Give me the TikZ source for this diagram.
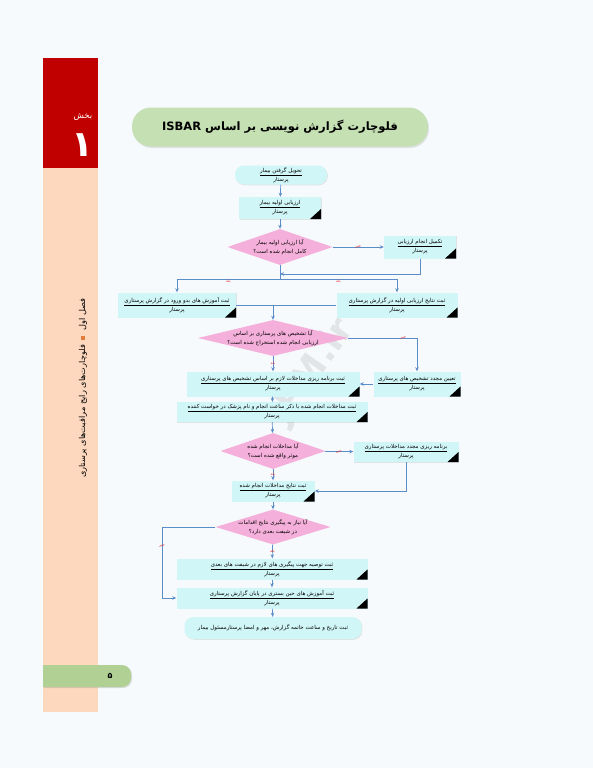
\documentclass[tikz,border=0pt]{standalone}
\usepackage{fontspec}
\usepackage{xcolor}
\usepackage{tikz}
\usetikzlibrary{shapes.geometric, arrows.meta, shadows, calc}
\TeXXeTstate=1
\newfontfamily\farsi[Script=Arabic]{DejaVu Sans}
\definecolor{pagebg}{HTML}{F6FAFC}
\definecolor{stripbg}{HTML}{FDD8BF}
\definecolor{chapred}{HTML}{C00000}
\definecolor{bulletor}{HTML}{E07B39}
\definecolor{titlegreen}{HTML}{C5E0B3}
\definecolor{tabgreen}{HTML}{B0D094}
\definecolor{taskcyan}{HTML}{D1F6F7}
\definecolor{decpink}{HTML}{F5AFDB}
\definecolor{flowblue}{HTML}{5B8DC9}
\definecolor{labelred}{HTML}{E0302F}

\begin{document}
\begin{tikzpicture}[x=1pt,y=-1pt,
    boxfont/.style={font=\farsi\fontsize{5.5}{9}\selectfont},
    task/.style={boxfont, fill=taskcyan, inner sep=.5pt, align=center,
      drop shadow={opacity=.18, shadow xshift=.8pt, shadow yshift=-.8pt},
      path picture={\fill[black] (path picture bounding box.south east)
        -- ++(-11pt,0pt) -- ++(11pt,10pt) -- cycle;}},
    startbox/.style={boxfont, fill=taskcyan, rounded corners=9pt, inner sep=.5pt, align=center,
      drop shadow={opacity=.18, shadow xshift=.8pt, shadow yshift=-.8pt}},
    decision/.style={diamond, fill=decpink, inner sep=0pt},
    dtext/.style={boxfont, align=center, inner sep=0pt},
    flow/.style={draw=flowblue, line width=.7pt, -{Stealth[length=4pt,width=3.5pt]}},
    link/.style={draw=flowblue, line width=.7pt},
    yes/.style={text=labelred, inner sep=.5pt, font=\farsi\fontsize{4}{4.5}\selectfont},
    no/.style={yes},
    chapfont/.style={rotate=90, anchor=east, inner sep=0pt, font=\farsi\fontsize{8.2}{9}\selectfont}]
  \def\W{593}
  \def\H{768}

  \useasboundingbox (0,0) rectangle (\W,\H);
  \fill[pagebg] (0,0) rectangle (\W,\H);

  % side strip
  \fill[stripbg] (43,58) rectangle (98,712);
  \fill[chapred] (43,58) rectangle (98,168);
  \node[text=white, font=\farsi\fontsize{8.5}{9}\selectfont] (part) at (83,117) {\beginR بخش\endR};
  \node[text=white, font=\farsi\bfseries\fontsize{36}{36}\selectfont] (partno) at (82,145) {\beginR ۱\endR};
  \node[chapfont] (chapA) at (83,298) {\beginR فصل اول\endR};
  \node[chapfont, fill=bulletor, minimum size=4pt] (chapsq) at ($(chapA.west)+(0,5)$) {};
  \node[chapfont] (chapB) at ($(chapsq.west)+(0,5)$) {\beginR فلوچارت‌های رایج مراقبت‌های پرستاری\endR};
  \fill[tabgreen, drop shadow={opacity=.25, shadow xshift=1pt, shadow yshift=-1pt}]
    (43,665) [rounded corners=9pt] -- (131,665) -- (131,687) [sharp corners] -- (43,687) -- cycle;
  \node[font=\farsi\bfseries\fontsize{8}{9}\selectfont] (pageno) at (110,676) {\beginR ۵\endR};

  % title
  \node[fill=titlegreen, rounded corners=19pt, minimum width=296, minimum height=39,
    drop shadow={opacity=.2, shadow xshift=1pt, shadow yshift=-1.5pt},
    font=\farsi\bfseries\fontsize{11.5}{14}\selectfont] (title) at (280,127)
    {\beginR فلوچارت گزارش نویسی بر اساس \beginL ISBAR\endL\endR};

  \node[text=gray, opacity=.17, rotate=55, font=\farsi\bfseries\fontsize{36}{36}\selectfont]
    (mark) at (312,372) {JPM.ir};

  % flowchart
  \node[startbox, minimum width=92, minimum height=19] (recv) at (281,175)
    {\underline{\beginR تحویل گرفتن بیمار\endR}\\\beginR پرستار\endR};
  \node[task, minimum width=82, minimum height=22] (assess) at (280,208)
    {\underline{\beginR ارزیابی اولیه بیمار\endR}\\\beginR پرستار\endR};
  \node[decision, minimum width=105, minimum height=36,
    label={[dtext]center:{\beginR آیا ارزیابی اولیه بیمار\endR\\\beginR کامل انجام شده است؟\endR}}] (q1) at (280,247) {};
  \node[task, minimum width=72, minimum height=23] (complete) at (420,247)
    {\underline{\beginR تکمیل انجام ارزیابی\endR}\\\beginR پرستار\endR};
  \node[task, minimum width=118, minimum height=25] (teach) at (177,305)
    {\underline{\beginR ثبت آموزش های بدو ورود در گزارش پرستاری\endR}\\\beginR پرستار\endR};
  \node[task, minimum width=121, minimum height=25] (result) at (397,305)
    {\underline{\beginR ثبت نتایج ارزیابی اولیه در گزارش پرستاری\endR}\\\beginR پرستار\endR};
  \node[decision, minimum width=150, minimum height=36,
    label={[dtext]center:{\beginR آیا تشخیص های پرستاری بر اساس\endR\\\beginR ارزیابی انجام شده استخراج شده است؟\endR}}] (q2) at (273,338) {};
  \node[task, minimum width=87, minimum height=25] (rediag) at (417,384)
    {\underline{\beginR تعیین مجدد تشخیص های پرستاری\endR}\\\beginR پرستار\endR};
  \node[task, minimum width=173, minimum height=25] (plan) at (273,384)
    {\underline{\beginR ثبت برنامه ریزی مداخلات لازم بر اساس تشخیص های پرستاری\endR}\\\beginR پرستار\endR};
  \node[task, minimum width=191, minimum height=20] (record) at (272,412)
    {\underline{\beginR ثبت مداخلات انجام شده با ذکر ساعت انجام و نام پزشک در خواست کننده\endR}\\\beginR پرستار\endR};
  \node[decision, minimum width=105, minimum height=36,
    label={[dtext]center:{\beginR آیا مداخلات انجام شده\endR\\\beginR موثر واقع شده است؟\endR}}] (q3) at (273,451) {};
  \node[task, minimum width=105, minimum height=20] (replan) at (406,452)
    {\underline{\beginR برنامه ریزی مجدد مداخلات پرستاری\endR}\\\beginR پرستار\endR};
  \node[task, minimum width=83, minimum height=21] (outcome) at (273,491)
    {\underline{\beginR ثبت نتایج مداخلات انجام شده\endR}\\\beginR پرستار\endR};
  \node[decision, minimum width=115, minimum height=35,
    label={[dtext]center:{\beginR آیا نیاز به پیگیری نتایج اقدامات\endR\\\beginR در شیفت بعدی دارد؟\endR}}] (q4) at (273,527) {};
  \node[task, minimum width=191, minimum height=21] (advise) at (272,569)
    {\underline{\beginR ثبت توصیه جهت پیگیری های لازم در شیفت های بعدی\endR}\\\beginR پرستار\endR};
  \node[task, minimum width=191, minimum height=21] (eduend) at (272,598)
    {\underline{\beginR ثبت آموزش های حین بستری در پایان گزارش پرستاری\endR}\\\beginR پرستار\endR};
  \node[startbox, minimum width=177, minimum height=22] (finish) at (273,628)
    {\beginR ثبت تاریخ و ساعت خاتمه گزارش، مهر و امضا پرستارمسئول بیمار\endR};

  \coordinate (join1) at (280,274);
  \coordinate (split1) at (280,279);
  \coordinate (merge1) at (teach.east -| q2.north);
  \coordinate (skip) at (162,527);

  \draw[flow] (recv) -- (assess);
  \draw[flow] (assess) -- (q1);
  \draw[flow] (q1) -- node[no] {\beginR خیر\endR} (complete);
  \draw[flow] (complete.south) |- (join1);
  \draw[link] (q1.south) -- (split1);
  \draw[flow] (split1) -| node[yes, pos=.25, anchor=north] {\beginR بله\endR} (teach.north);
  \draw[flow] (split1) -| node[yes, pos=.25, anchor=north] {\beginR بله\endR} (result.north);
  \draw[link] (teach.east) -- (result.west);
  \draw[flow] (merge1) -- (q2.north);
  \draw[flow] (q2.east) -| node[no, pos=.4] {\beginR خیر\endR} (rediag.north);
  \draw[flow] (q2) -- node[yes] {\beginR بله\endR} (plan);
  \draw[flow] (rediag) -- (plan);
  \draw[flow] (plan) -- (record);
  \draw[flow] (record) -- (q3);
  \draw[flow] (q3) -- node[no] {\beginR خیر\endR} (replan);
  \draw[flow] (replan.south) |- (outcome.east);
  \draw[flow] (q3) -- node[yes] {\beginR بله\endR} (outcome);
  \draw[flow] (outcome) -- (q4);
  \draw[flow] (q4.west) -- (skip) |- node[no, pos=.13] {\beginR خیر\endR} (eduend.west);
  \draw[flow] (q4) -- node[yes] {\beginR بله\endR} (advise);
  \draw[flow] (advise) -- (eduend);
  \draw[flow] (eduend) -- (finish);
\end{tikzpicture}
\end{document}
